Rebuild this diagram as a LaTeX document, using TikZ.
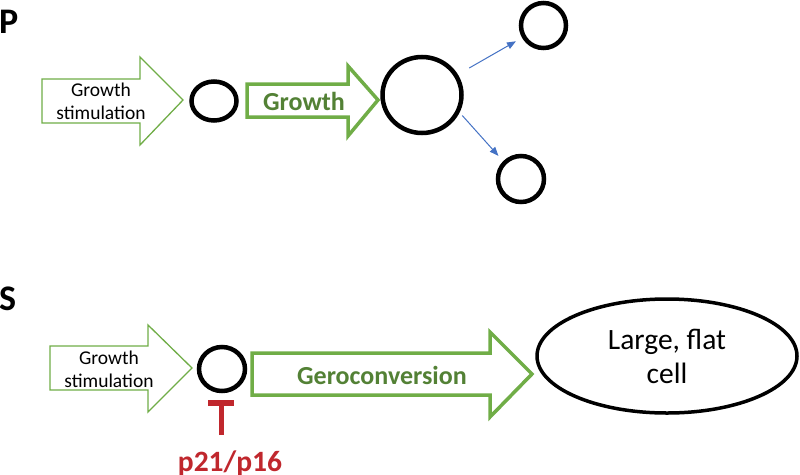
\documentclass[tikz,border=0pt]{standalone}
\usepackage{fontspec}
\setmainfont{Carlito}
\usetikzlibrary{shapes.geometric,arrows.meta}
\definecolor{lgreen}{RGB}{112,173,71}
\definecolor{dgreen}{RGB}{83,129,53}
\definecolor{cblue}{RGB}{68,114,196}
\definecolor{cred}{RGB}{192,39,45}
\tikzset{
  cell/.style={draw=black, line width=4.5pt, ellipse, inner sep=0pt},
  thinarrow/.style={draw=lgreen, line width=1.3pt, fill=white},
  thickarrow/.style={draw=lgreen, line width=3.5pt, fill=white, line join=miter},
  stimtext/.style={font=\fontsize{19.5}{23}\selectfont, align=center, inner sep=0pt},
  boldgreen/.style={font=\fontsize{26}{30}\bfseries\selectfont, text=dgreen, inner sep=0pt},
  panel/.style={font=\fontsize{36}{40}\bfseries\selectfont, inner sep=0pt, anchor=base west},
  split/.style={draw=cblue, line width=1pt, -{Triangle[length=9pt,width=7pt]}},
  inhib/.style={draw=cred, line width=5pt, -{Bar[width=26pt,line width=6pt]}}
}
\begin{document}
\begin{tikzpicture}[x=1pt,y=-1pt]
\useasboundingbox (0,0) rectangle (800,474);

% panel labels
\node[panel] (lp) at (-1,33) {P};
\node[panel] (ls) at (-1,310) {S};

% ---------- P row ----------
\draw[thinarrow] (42,79) -- (140,79) -- (140,57) -- (183,100) -- (140,145) -- (140,123) -- (42,123) -- cycle;
\node[stimtext] (gs1) at (101,101) {Growth\\stimulation};

\node[cell, minimum width=45pt, minimum height=39pt] (c1) at (214,101) {};

\draw[thickarrow] (247,84) -- (348,84) -- (348,66) -- (378,100) -- (348,136) -- (348,117) -- (247,117) -- cycle;
\node[boldgreen] (gr) at (304,101) {Growth};

\node[cell, minimum width=79pt, minimum height=76pt] (big) at (422,95) {};
\node[cell, minimum width=45pt, minimum height=45pt] (top) at (543.5,25.5) {};
\node[cell, minimum width=46pt, minimum height=46pt] (bot) at (521,179) {};

\draw[split, shorten <=13pt, shorten >=7pt] (big) -- (top);
\draw[split, shorten <=4pt, shorten >=7pt] (big.-25) -- (bot.135);

% ---------- S row ----------
\draw[thinarrow] (50,346) -- (148,346) -- (148,325) -- (192,368) -- (148,412) -- (148,390) -- (50,390) -- cycle;
\node[stimtext] (gs2) at (109,369) {Growth\\stimulation};

\node[cell, minimum width=46pt, minimum height=44pt] (c2) at (222,369) {};

\draw[thickarrow] (252,353) -- (490,353) -- (490,332) -- (532,374) -- (490,417) -- (490,395) -- (252,395) -- cycle;
\node[boldgreen, font=\fontsize{26}{30}\bfseries\selectfont] (gc) at (382,375) {Geroconversion};

\node[cell, line width=3.5pt, minimum width=260pt, minimum height=114pt, align=center,
      font=\fontsize{29.5}{34}\selectfont] (flat) at (667,356) {Large, flat\\cell};

\node[font=\fontsize{29.5}{33}\bfseries\selectfont, text=cred, inner sep=0pt, anchor=base] (p21) at (230,471) {p21/p16};
\coordinate (inhstart) at (221,435);
\coordinate (inhend) at (221,400);
\draw[inhib] (inhstart) -- (inhend);
\end{tikzpicture}
\end{document}
